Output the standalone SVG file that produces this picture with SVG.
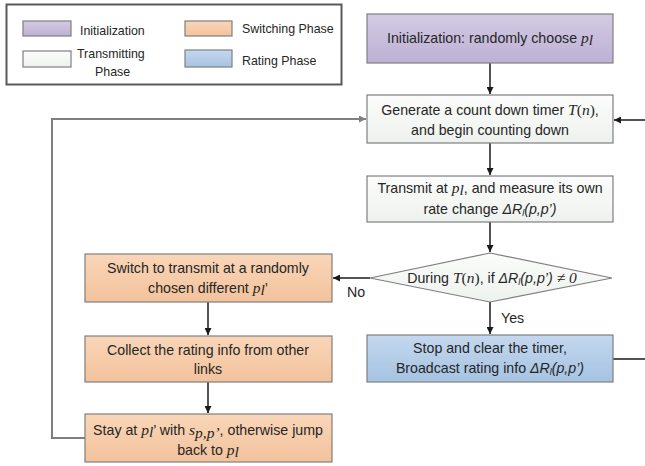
<svg xmlns="http://www.w3.org/2000/svg" width="645" height="466" viewBox="0 0 645 466">
<style>
.t{font-family:"Liberation Sans",Arial,sans-serif;font-size:14.2px;fill:#262626;text-anchor:middle}
.lg{font-family:"Liberation Sans",Arial,sans-serif;font-size:12.4px;fill:#262626}
.m{font-family:"Liberation Serif","Times New Roman",serif;font-style:italic;font-size:15.5px}
.mr{font-family:"Liberation Serif","Times New Roman",serif;font-size:15.5px}
.i{font-style:italic}
.box{stroke:#7f7f7f;stroke-width:1.2}
.c{fill:none;stroke:#1a1a1a;stroke-width:1.5}
.g{fill:none;stroke:#7f7f7f;stroke-width:2}
</style>
<defs>
<linearGradient id="gi" x1="0" y1="0" x2="0" y2="1"><stop offset="0" stop-color="#d3cbe3"/><stop offset="1" stop-color="#bdb0d5"/></linearGradient>
<linearGradient id="gt" x1="0" y1="0" x2="0" y2="1"><stop offset="0" stop-color="#fbfcfb"/><stop offset="1" stop-color="#eef2ee"/></linearGradient>
<linearGradient id="gs" x1="0" y1="0" x2="0" y2="1"><stop offset="0" stop-color="#f9d6b8"/><stop offset="1" stop-color="#f3c29c"/></linearGradient>
<linearGradient id="gr" x1="0" y1="0" x2="0" y2="1"><stop offset="0" stop-color="#c4d8ee"/><stop offset="1" stop-color="#a5c3e2"/></linearGradient>
<marker id="a" viewBox="0 0 10 10" refX="10" refY="5" markerWidth="7" markerHeight="7" orient="auto" markerUnits="userSpaceOnUse"><path d="M0,0 L10,5 L0,10 z" fill="#1a1a1a"/></marker>
<marker id="ag" viewBox="0 0 10 10" refX="10" refY="5" markerWidth="7" markerHeight="7" orient="auto" markerUnits="userSpaceOnUse"><path d="M0,0 L10,5 L0,10 z" fill="#7f7f7f"/></marker>
</defs>
<rect width="645" height="466" fill="#fff"/>

<g id="legend">
<rect x="6.5" y="4.5" width="335" height="80" fill="#fff" stroke="#595959" stroke-width="2"/>
<rect x="23" y="21" width="48" height="15" fill="url(#gi)" class="box"/>
<text class="lg" x="80" y="35">Initialization</text>
<rect x="23" y="51" width="48" height="16" fill="url(#gt)" class="box"/>
<text class="lg" x="77" y="58">Transmitting</text>
<text class="lg" x="95" y="76">Phase</text>
<rect x="185" y="21" width="47" height="15" fill="url(#gs)" class="box"/>
<text class="lg" x="242" y="33">Switching Phase</text>
<rect x="185" y="50" width="47" height="17" fill="url(#gr)" class="box"/>
<text class="lg" x="242" y="65">Rating Phase</text>
</g>

<g id="connectors">
<line class="c" x1="490" y1="63" x2="490" y2="94" marker-end="url(#a)"/>
<line class="c" x1="490" y1="143" x2="490" y2="175" marker-end="url(#a)"/>
<line class="c" x1="490" y1="222" x2="490" y2="252" marker-end="url(#a)"/>
<line class="c" x1="490" y1="302" x2="490" y2="334" marker-end="url(#a)"/>
<line class="c" x1="370" y1="278" x2="333" y2="278" marker-end="url(#a)"/>
<line class="c" x1="208" y1="302" x2="208" y2="335" marker-end="url(#a)"/>
<line class="c" x1="208" y1="382" x2="208" y2="413" marker-end="url(#a)"/>
<polyline class="g" points="85,438 52,438 52,119 366,119" marker-end="url(#ag)"/>
<line class="c" x1="613" y1="359" x2="645" y2="359"/>
<line class="c" x1="645" y1="120" x2="614" y2="120" marker-end="url(#a)"/>
<text class="t" x="501" y="323" style="text-anchor:start">Yes</text>
<text class="t" x="356" y="297">No</text>
</g>

<g id="init">
<rect x="367" y="14" width="246" height="49" fill="url(#gi)" class="box"/>
<text class="t" x="490" y="43">Initialization: randomly choose <tspan class="m">p</tspan><tspan class="m" font-size="10" dy="2">l</tspan></text>
</g>

<g id="generate">
<rect x="367" y="95" width="246" height="48" fill="url(#gt)" class="box"/>
<text class="t" x="490" y="115">Generate a count down timer <tspan class="m">T</tspan><tspan class="mr">(</tspan><tspan class="m">n</tspan><tspan class="mr">)</tspan>,</text>
<text class="t" x="490" y="135">and begin counting down</text>
</g>

<g id="transmit">
<rect x="367" y="176" width="246" height="46" fill="url(#gt)" class="box"/>
<text class="t" x="490" y="193">Transmit at <tspan class="m">p</tspan><tspan class="m" font-size="10" dy="2">l</tspan><tspan dy="-2">, and measure its own</tspan></text>
<text class="t" x="490" y="214">rate change <tspan class="i">ΔR</tspan><tspan class="i" font-size="9" dy="2">l</tspan><tspan class="i" dy="-2">(p,p’)</tspan></text>
</g>

<g id="decision">
<polygon points="490,253 612,278 490,302 370,278" fill="url(#gt)" class="box"/>
<text class="t" x="492" y="283">During <tspan class="m">T</tspan><tspan class="mr">(</tspan><tspan class="m">n</tspan><tspan class="mr">)</tspan>, if  <tspan class="i">ΔR</tspan><tspan class="i" font-size="9" dy="2">l</tspan><tspan class="i" dy="-2">(p,p’)</tspan> <tspan class="m">≠ 0</tspan></text>
</g>

<g id="rating">
<rect x="367" y="335" width="246" height="47" fill="url(#gr)" class="box"/>
<text class="t" x="490" y="353">Stop and clear the timer,</text>
<text class="t" x="490" y="373">Broadcast rating info <tspan class="i">ΔR</tspan><tspan class="i" font-size="9" dy="2">l</tspan><tspan class="i" dy="-2">(p,p’)</tspan></text>
</g>

<g id="switch">
<rect x="85" y="254" width="247" height="48" fill="url(#gs)" class="box"/>
<text class="t" x="208" y="273">Switch to transmit at a randomly</text>
<text class="t" x="208" y="293">chosen different <tspan class="m">p</tspan><tspan class="m" font-size="10" dy="2">l</tspan><tspan dy="-2">’</tspan></text>
</g>

<g id="collect">
<rect x="85" y="336" width="247" height="46" fill="url(#gs)" class="box"/>
<text class="t" x="208" y="355">Collect the rating info from other</text>
<text class="t" x="208" y="374">links</text>
</g>

<g id="stay">
<rect x="85" y="414" width="247" height="48" fill="url(#gs)" class="box"/>
<text class="t" x="208" y="435">Stay at <tspan class="m">p</tspan><tspan class="m" font-size="10" dy="2">l</tspan><tspan dy="-2">’ with </tspan><tspan class="m">s</tspan><tspan class="m" font-size="10" dy="3">p,p’</tspan><tspan dy="-3">, otherwise jump</tspan></text>
<text class="t" x="208" y="455">back to <tspan class="m">p</tspan><tspan class="m" font-size="10" dy="2">l</tspan></text>
</g>
</svg>
